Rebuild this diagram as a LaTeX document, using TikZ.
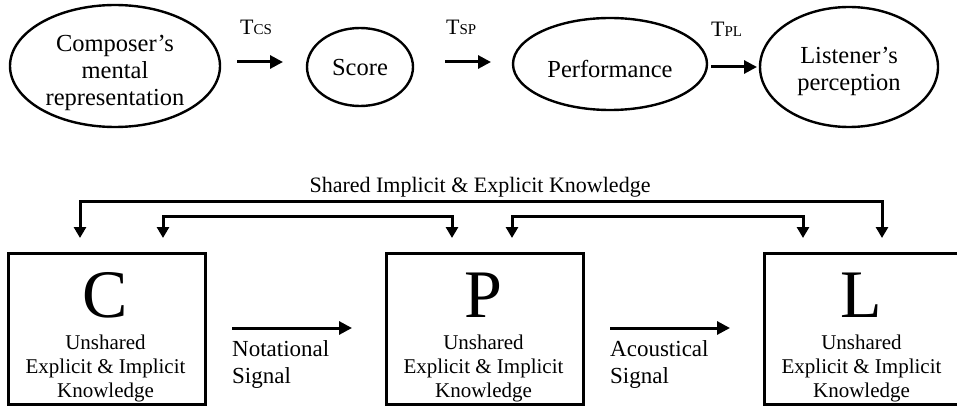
\documentclass[tikz,border=0pt]{standalone}
\usepackage{fontspec}
\setmainfont{Liberation Serif}
\usetikzlibrary{shapes.geometric,arrows.meta}
\begin{document}
\begin{tikzpicture}[x=1pt,y=-1pt,
  ell/.style={draw,ellipse,line width=2.4pt,inner sep=0pt},
  etext/.style={font=\fontsize{24.5}{27}\selectfont,align=center,inner sep=0pt},
  tlab/.style={font=\fontsize{22}{22}\selectfont,anchor=base west,inner sep=0pt},
  knbox/.style={draw,rectangle,line width=2.8pt,inner sep=0pt,anchor=north west,minimum width=197pt,minimum height=151pt},
  bigl/.style={font=\fontsize{68}{68}\selectfont,anchor=base,inner sep=0pt},
  ktext/.style={font=\fontsize{21}{24}\selectfont,align=center,inner sep=0pt},
  sigtext/.style={font=\fontsize{23}{27}\selectfont,align=left,anchor=west,inner sep=0pt},
  harr/.style={line width=3pt,-{Triangle[length=13pt,width=13pt]}},
  barr/.style={line width=3pt,{Triangle[length=11pt,width=12pt]}-{Triangle[length=11pt,width=12pt]}}
]
\useasboundingbox (0,0) rectangle (957,406);
\clip (0,0) rectangle (957,406);
% top row
\node[ell,minimum width=210pt,minimum height=122pt] (comp) at (115,66) {};
\node[etext] (compt) at (115,73) {Composer’s\\mental\\representation};
\node[ell,minimum width=106pt,minimum height=78pt] (score) at (360,67) {};
\node[etext] (scoret) at (360,68) {Score};
\node[ell,minimum width=194pt,minimum height=92pt] (perf) at (610,64) {};
\node[etext] (perft) at (610,69) {Performance};
\node[ell,minimum width=178pt,minimum height=120pt] (list) at (849,67) {};
\node[etext] (listt) at (849,71) {Listener’s\\perception};

\coordinate (a1s) at (237,62); \coordinate (a1e) at (283,62);
\coordinate (a2s) at (445,62); \coordinate (a2e) at (491,62);
\coordinate (a3s) at (711,67); \coordinate (a3e) at (757,67);
\draw[harr] (a1s) -- (a1e);
\draw[harr] (a2s) -- (a2e);
\draw[harr] (a3s) -- (a3e);
\node[tlab] (tcs) at (240,35) {T{\fontsize{15}{15}\selectfont CS}};
\node[tlab] (tsp) at (446,35) {T{\fontsize{15}{15}\selectfont SP}};
\node[tlab] (tpl) at (711,37) {T{\fontsize{15}{15}\selectfont PL}};

% bottom row
\node[knbox] (C) at (7,252) {};
\node[knbox] (P) at (385,252) {};
\node[knbox] (L) at (763,252) {};
\node[bigl] (Cl) at (105.5,317) {C};
\node[bigl] (Pl) at (483.5,317) {P};
\node[bigl] (Ll) at (861.5,317) {L};
\node[ktext] (Ct) at (105.5,368) {Unshared\\Explicit \& Implicit\\Knowledge};
\node[ktext] (Pt) at (483.5,368) {Unshared\\Explicit \& Implicit\\Knowledge};
\node[ktext] (Lt) at (861.5,368) {Unshared\\Explicit \& Implicit\\Knowledge};

\coordinate (n1) at (232,328); \coordinate (n2) at (352,328);
\coordinate (s1) at (610,328); \coordinate (s2) at (730,328);
\draw[harr] (n1) -- (n2);
\draw[harr] (s1) -- (s2);
\node[sigtext] (nt) at (232,364) {Notational\\Signal};
\node[sigtext] (st) at (610,364) {Acoustical\\Signal};

\node[font=\fontsize{22}{22}\selectfont,anchor=base,inner sep=0pt] (shared) at (480,192) {Shared Implicit \& Explicit Knowledge};
\coordinate (oL) at (80,238); \coordinate (oR) at (882,238);
\coordinate (iL1) at (163,238); \coordinate (iR1) at (452,238);
\coordinate (iL2) at (512,238); \coordinate (iR2) at (803,238);
\draw[barr] (oL) -- (80,201) -- (882,201) -- (oR);
\draw[barr] (iL1) -- (163,216) -- (452,216) -- (iR1);
\draw[barr] (iL2) -- (512,216) -- (803,216) -- (iR2);
\end{tikzpicture}
\end{document}
